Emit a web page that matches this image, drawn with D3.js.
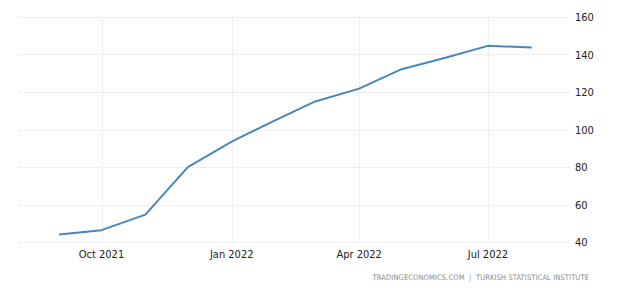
<!DOCTYPE html>
<html>
<head>
<meta charset="utf-8">
<script src="https://cdn.jsdelivr.net/npm/d3@7"></script>
<style>
  body { margin: 0; background: #fff; }
  svg { display: block; }
</style>
</head>
<body>
<svg id="chart" width="624" height="290"></svg>
<script>
// monthly points, PPI yoy %
var months = ["2021-09-01","2021-10-01","2021-11-01","2021-12-01","2022-01-01","2022-02-01",
              "2022-03-01","2022-04-01","2022-05-01","2022-06-01","2022-07-01","2022-08-01"]
var values = [43.96, 46.31, 54.62, 79.89, 93.53, 105.01, 114.97, 121.82, 132.16, 138.31, 144.61, 143.75]
var xTicks = ["2021-10-01","2022-01-01","2022-04-01","2022-07-01"]
var yTicks = [40, 60, 80, 100, 120, 140, 160]
var source = "TRADINGECONOMICS.COM  |  TURKISH STATISTICAL INSTITUTE"

var parseDate = d3.timeParse("%Y-%m-%d")
var formatTick = d3.timeFormat("%b %Y")

var data = months.map(function(m, i) { return { date: parseDate(m), value: values[i] } })

var svg = d3.select("#chart")

var x = d3.scaleTime()
    .domain([parseDate("2021-08-03"), parseDate("2022-08-28")])
    .range([18, 570])

var y = d3.scaleLinear()
    .domain([40, 160])
    .range([242, 17])

// horizontal grid
svg.append("g")
    .selectAll("line")
    .data(yTicks)
    .join("line")
    .attr("x1", 18)
    .attr("x2", 570)
    .attr("y1", d => Math.round(y(d)) + 0.5)
    .attr("y2", d => Math.round(y(d)) + 0.5)
    .attr("stroke", "#e2e2e2")
    .attr("stroke-dasharray", "1,1")

// vertical grid
svg.append("g")
    .selectAll("line")
    .data(xTicks)
    .join("line")
    .attr("x1", d => Math.round(x(parseDate(d))) + 0.5)
    .attr("x2", d => Math.round(x(parseDate(d))) + 0.5)
    .attr("y1", y(160))
    .attr("y2", y(40))
    .attr("stroke", "#e2e2e2")
    .attr("stroke-dasharray", "1,1")

// y labels
svg.append("g")
    .selectAll("text")
    .data(yTicks)
    .join("text")
    .attr("x", 575)
    .attr("y", d => y(d) + 4)
    .attr("font-family", "'DejaVu Sans Condensed', 'DejaVu Sans'")
    .attr("font-size", "11px")
    .attr("fill", "#222")
    .text(d => d)

// x labels
svg.append("g")
    .selectAll("text")
    .data(xTicks)
    .join("text")
    .attr("x", d => x(parseDate(d)))
    .attr("y", 258)
    .attr("text-anchor", "middle")
    .attr("font-family", "'DejaVu Sans Condensed', 'DejaVu Sans'")
    .attr("font-size", "11px")
    .attr("fill", "#222")
    .text(d => formatTick(parseDate(d)))

var line = d3.line()
    .x(d => x(d.date))
    .y(d => y(d.value))

svg.append("path")
    .datum(data)
    .attr("d", line)
    .attr("fill", "none")
    .attr("stroke", "#4a86bb")
    .attr("stroke-width", 2)
    .attr("stroke-linejoin", "round")

svg.append("text")
    .attr("x", 589)
    .attr("y", 280)
    .attr("text-anchor", "end")
    .attr("font-family", "'DejaVu Sans Condensed', 'DejaVu Sans'")
    .attr("font-size", "7.5px")
    .attr("letter-spacing", "0.1px")
    .attr("fill", "#8a8a8a")
    .style("white-space", "pre")
    .text(source)
</script>
</body>
</html>
